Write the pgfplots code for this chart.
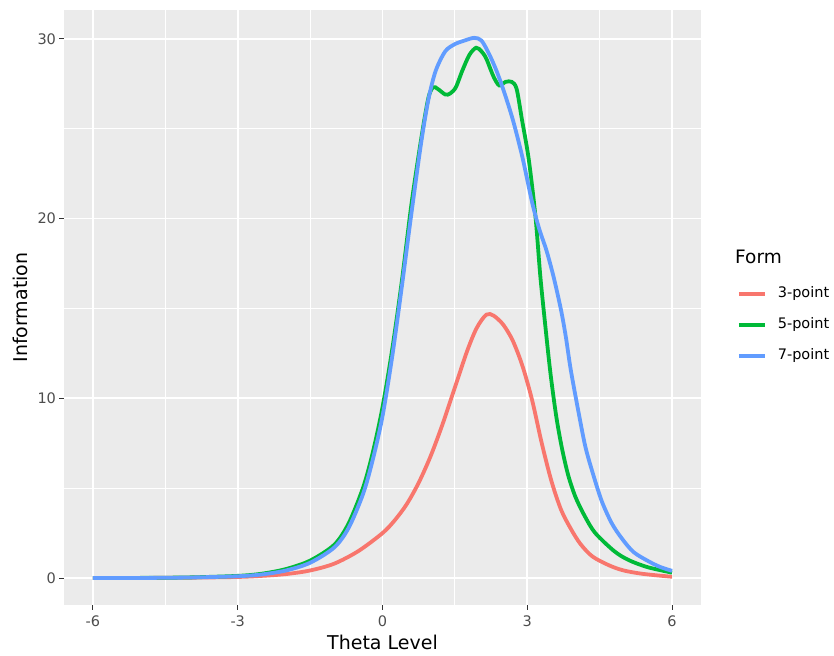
\documentclass[border=0pt]{standalone}
\usepackage{pgfplots}
\pgfplotsset{compat=1.18}
\usepackage{fontspec}
\setmainfont{DejaVu Sans}
\definecolor{c3}{HTML}{F8766D}
\definecolor{c5}{HTML}{00BA38}
\definecolor{c7}{HTML}{619CFF}
\definecolor{panel}{HTML}{EBEBEB}
\definecolor{tickc}{HTML}{4D4D4D}
\definecolor{tickm}{HTML}{333333}
\pgfplotstableread{
x y
-6 0.0
-5 0.005
-4 0.02
-3 0.06
-2.5 0.12
-2 0.22
-1.5 0.42
-1 0.8
-0.5 1.5
0 2.5
0.25 3.2
0.5 4.1
0.75 5.3
1.0 6.8
1.25 8.6
1.5 10.6
1.75 12.6
1.95 13.9
2.15 14.65
2.3 14.6
2.5 14.1
2.7 13.2
2.9 11.8
3.1 9.9
3.3 7.5
3.5 5.4
3.7 3.8
3.9 2.75
4.1 1.9
4.35 1.2
4.7 0.7
5.0 0.42
5.4 0.23
6.0 0.07
}\tthree
\pgfplotstableread{
x y
-6 0
-5 0.008
-4 0.035
-3 0.12
-2.5 0.24
-2 0.5
-1.5 0.97
-1.0 1.85
-0.7 3.05
-0.4 5.05
-0.2 7.0
0 9.5
0.2 12.7
0.4 16.5
0.6 20.8
0.8 24.4
0.95 26.7
1.05 27.3
1.15 27.2
1.3 26.9
1.4 26.95
1.52 27.3
1.65 28.2
1.8 29.1
1.94 29.5
2.05 29.3
2.15 28.9
2.3 27.9
2.42 27.4
2.55 27.6
2.68 27.6
2.78 27.2
2.89 25.5
3.03 23.3
3.17 20.1
3.27 16.8
3.375 14.0
3.48 11.4
3.6 9.0
3.72 7.2
3.85 5.7
4.0 4.5
4.2 3.4
4.41 2.5
4.8 1.5
5.1 1.0
5.5 0.6
6.0 0.3
}\tfive
\pgfplotstableread{
x y
-6 0
-5 0.005
-4 0.03
-3 0.1
-2.5 0.2
-2 0.42
-1.5 0.85
-1.0 1.7
-0.7 2.8
-0.4 4.7
-0.2 6.6
0 9.0
0.2 12.3
0.4 16.2
0.6 20.3
0.8 24.2
0.95 26.6
1.1 28.2
1.3 29.3
1.5 29.7
1.7 29.9
1.9 30.05
2.05 29.9
2.2 29.2
2.35 28.3
2.5 27.2
2.7 25.5
2.9 23.4
3.1 20.9
3.25 19.4
3.4 18.2
3.55 16.7
3.7 14.9
3.8 13.4
3.9 11.6
4.05 9.4
4.2 7.35
4.35 5.9
4.54 4.3
4.75 3.05
4.96 2.2
5.2 1.45
5.5 0.95
5.75 0.62
6.0 0.4
}\tseven
\begin{document}
\begin{tikzpicture}
\useasboundingbox (-64pt,-50pt) rectangle (770pt,605pt);
\begin{axis}[
 scale only axis, width=637pt, height=595pt,
 xmin=-6.6, xmax=6.6, ymin=-1.5, ymax=31.6,
 clip mode=individual,
 axis background/.style={fill=panel},
 axis line style={draw=none},
 xtick={-6,-3,0,3,6}, xticklabels={-6,-3,0,3,6},
 ytick={0,10,20,30}, yticklabels={0,10,20,30},
 minor xtick={-4.5,-1.5,1.5,4.5}, minor ytick={5,15,25},
 grid=both,
 major grid style={white, line width=1.8pt},
 minor grid style={white, line width=0.9pt},
 tick align=outside, tick pos=left,
 major tick length=4.5pt, minor tick length=0pt,
 tick style={tickm, line width=1pt},
 tick label style={font=\fontsize{14.5}{16}\selectfont, text=tickc},
 xticklabel style={yshift=-3pt},
 xlabel={Theta Level}, ylabel={Information},
 label style={font=\fontsize{19}{21}\selectfont, text=black},
 xlabel style={at={(axis description cs:0.5,0)}, anchor=center, yshift=-37pt},
 ylabel style={at={(axis description cs:0,0.5)}, anchor=center, yshift=44pt},
 legend cell align=left,
 legend image code/.code={\draw[#1, line width=3.8pt] (0pt,0pt) -- (26pt,0pt);},
 legend style={at={(axis description cs:1.0565,0.5348)}, anchor=north west,
   draw=none, fill=none, inner sep=0pt, outer sep=0pt, row sep=17pt, column sep=11pt,
   nodes={inner sep=0pt, text height=10.5pt, text depth=3.5pt, font=\fontsize{14.5}{16}\selectfont, text=black}},
]
\addplot[c3, line width=3.8pt, smooth, no markers] table {\tthree};
\addlegendentry{3-point}
\addplot[c5, line width=3.8pt, smooth, no markers] table {\tfive};
\addlegendentry{5-point}
\addplot[c7, line width=3.8pt, smooth, no markers] table {\tseven};
\addlegendentry{7-point}
\node[anchor=west, inner sep=0pt, font=\fontsize{18.5}{20}\selectfont] at (axis description cs:1.0534,0.5849) {Form};
\end{axis}
\end{tikzpicture}
\end{document}
